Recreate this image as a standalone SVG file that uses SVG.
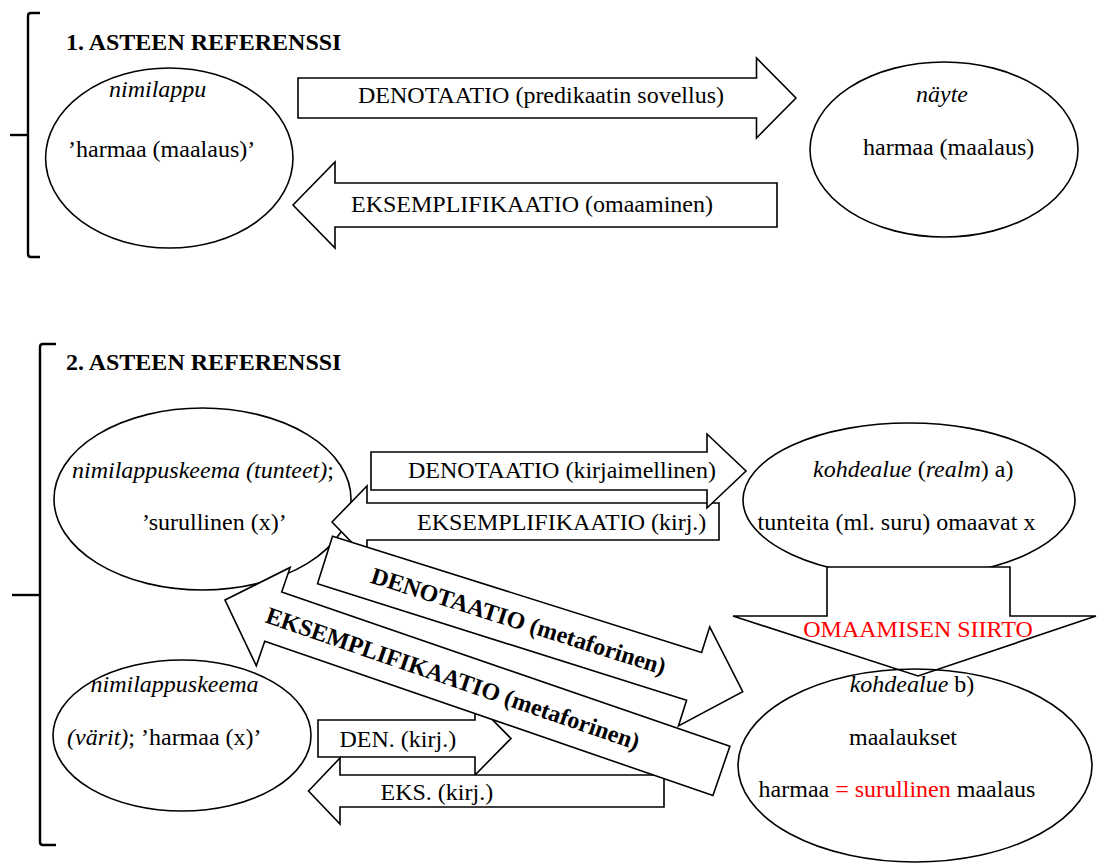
<svg xmlns="http://www.w3.org/2000/svg" width="1097" height="863" viewBox="0 0 1097 863">
<style>
text{font-family:"Liberation Serif","Times New Roman",serif;font-size:24px;fill:#000}
.b{font-weight:bold}
.i{font-style:italic}
.red{fill:#ff0000}
.mid{text-anchor:middle}
.shape{fill:#fff;stroke:#000;stroke-width:1.6}
.brk{fill:none;stroke:#000;stroke-width:2.4}
</style>
<rect width="1097" height="863" fill="#fff"/>
<g id="bracket1">
<path class="brk" d="M40,13 H31 Q28,13 28,16 V254 Q28,257 31,257 H40"/>
<path class="brk" d="M10,135 H28"/>
<text class="b" x="66" y="50">1. ASTEEN REFERENSSI</text>
</g>
<g id="bracket2">
<path class="brk" d="M56,344 H43 Q40,344 40,347 V842 Q40,845 43,845 H56"/>
<path class="brk" d="M12,595 H40"/>
<text class="b" x="66" y="370">2. ASTEEN REFERENSSI</text>
</g>
<g id="node-nimilappu">
<ellipse class="shape" cx="169.3" cy="158" rx="123.7" ry="90"/>
<text class="i" x="109" y="97">nimilappu</text>
<text x="68" y="157">’harmaa (maalaus)’</text>
</g>
<g id="node-nayte">
<ellipse class="shape" cx="944" cy="149.5" rx="134" ry="87.5"/>
<text class="i mid" x="942" y="102">näyte</text>
<text x="863" y="155">harmaa (maalaus)</text>
</g>
<g id="node-tunteet">
<ellipse class="shape" cx="202.5" cy="499" rx="148.5" ry="91"/>
<text x="72" y="478"><tspan class="i">nimilappuskeema (tunteet)</tspan>;</text>
<text x="142" y="530">’surullinen (x)’</text>
</g>
<g id="node-kohdealue-a">
<ellipse class="shape" cx="909" cy="500" rx="166" ry="77"/>
<text x="813" y="477"><tspan class="i">kohdealue</tspan> (<tspan class="i">realm</tspan>) a)</text>
<text x="757.5" y="530">tunteita (ml. suru) omaavat x</text>
</g>
<g id="node-varit">
<ellipse class="shape" cx="182" cy="735.5" rx="129" ry="75.5"/>
<text class="i" x="90.5" y="692">nimilappuskeema</text>
<text x="67" y="745"><tspan class="i">(värit)</tspan>; ’harmaa (x)’</text>
</g>
<g id="connectors">
<g id="arrow-denotaatio-1">
<polygon class="shape" points="298,78 756.5,78 756.5,58 796,98 756.5,138 756.5,118 298,118"/>
<text class="mid" x="541" y="103">DENOTAATIO (predikaatin sovellus)</text>
</g>
<g id="arrow-eksemplifikaatio-1">
<polygon class="shape" points="293,205 335,162 335,183 777,183 777,227 335,227 335,248"/>
<text x="351" y="212">EKSEMPLIFIKAATIO (omaaminen)</text>
</g>
<g id="arrow-eks-kirj">
<polygon class="shape" points="332,522 367,486 367,503 719,503 719,540 367,540 367,558"/>
<text x="417" y="530">EKSEMPLIFIKAATIO (kirj.)</text>
</g>
<g id="arrow-den-kirj">
<polygon class="shape" points="371,452 707,452 707,434 746,471 707,508 707,490 371,490"/>
<text x="408" y="478">DENOTAATIO (kirjaimellinen)</text>
</g>
<g id="arrow-den-kirj-2">
<polygon class="shape" points="318,720 475,720 475,702 511,738.5 475,775 475,757 318,757"/>
<text x="339.5" y="747">DEN. (kirj.)</text>
</g>
<g id="arrow-eks-kirj-2">
<polygon class="shape" points="308.5,791 340,758 340,775 664,775 664,807 340,807 340,824"/>
<text x="380.5" y="800">EKS. (kirj.)</text>
</g>
<g id="arrow-eks-meta" transform="translate(225,600) rotate(19)">
<polygon class="shape" points="0,0 51,-52 51,-26 525,-26 525,26 51,26 51,52"/>
<text class="b mid" x="241" y="8">EKSEMPLIFIKAATIO (metaforinen)</text>
</g>
<g id="arrow-den-meta" transform="translate(325,560) rotate(17.5)">
<polygon class="shape" points="0,-25 387,-25 387,-52 438,0 387,52 387,25 0,25"/>
<text class="b mid" x="203" y="8">DENOTAATIO (metaforinen)</text>
</g>
<g id="arrow-omaamisen-siirto">
<polygon class="shape" points="827,567 1010,567 1010,616 1096,616 918,676 733,616 827,616"/>
<text class="red mid" x="918" y="637">OMAAMISEN SIIRTO</text>
</g>
</g>
<g id="node-kohdealue-b">
<ellipse cx="915" cy="765.5" rx="177" ry="96.5" fill="none" stroke="#000" stroke-width="1.6"/>
<text class="mid" x="912" y="692"><tspan class="i">kohdealue</tspan> b)</text>
<text class="mid" x="903" y="745">maalaukset</text>
<text x="758.6" y="797">harmaa <tspan class="red">= surullinen</tspan> maalaus</text>
</g>
</svg>
